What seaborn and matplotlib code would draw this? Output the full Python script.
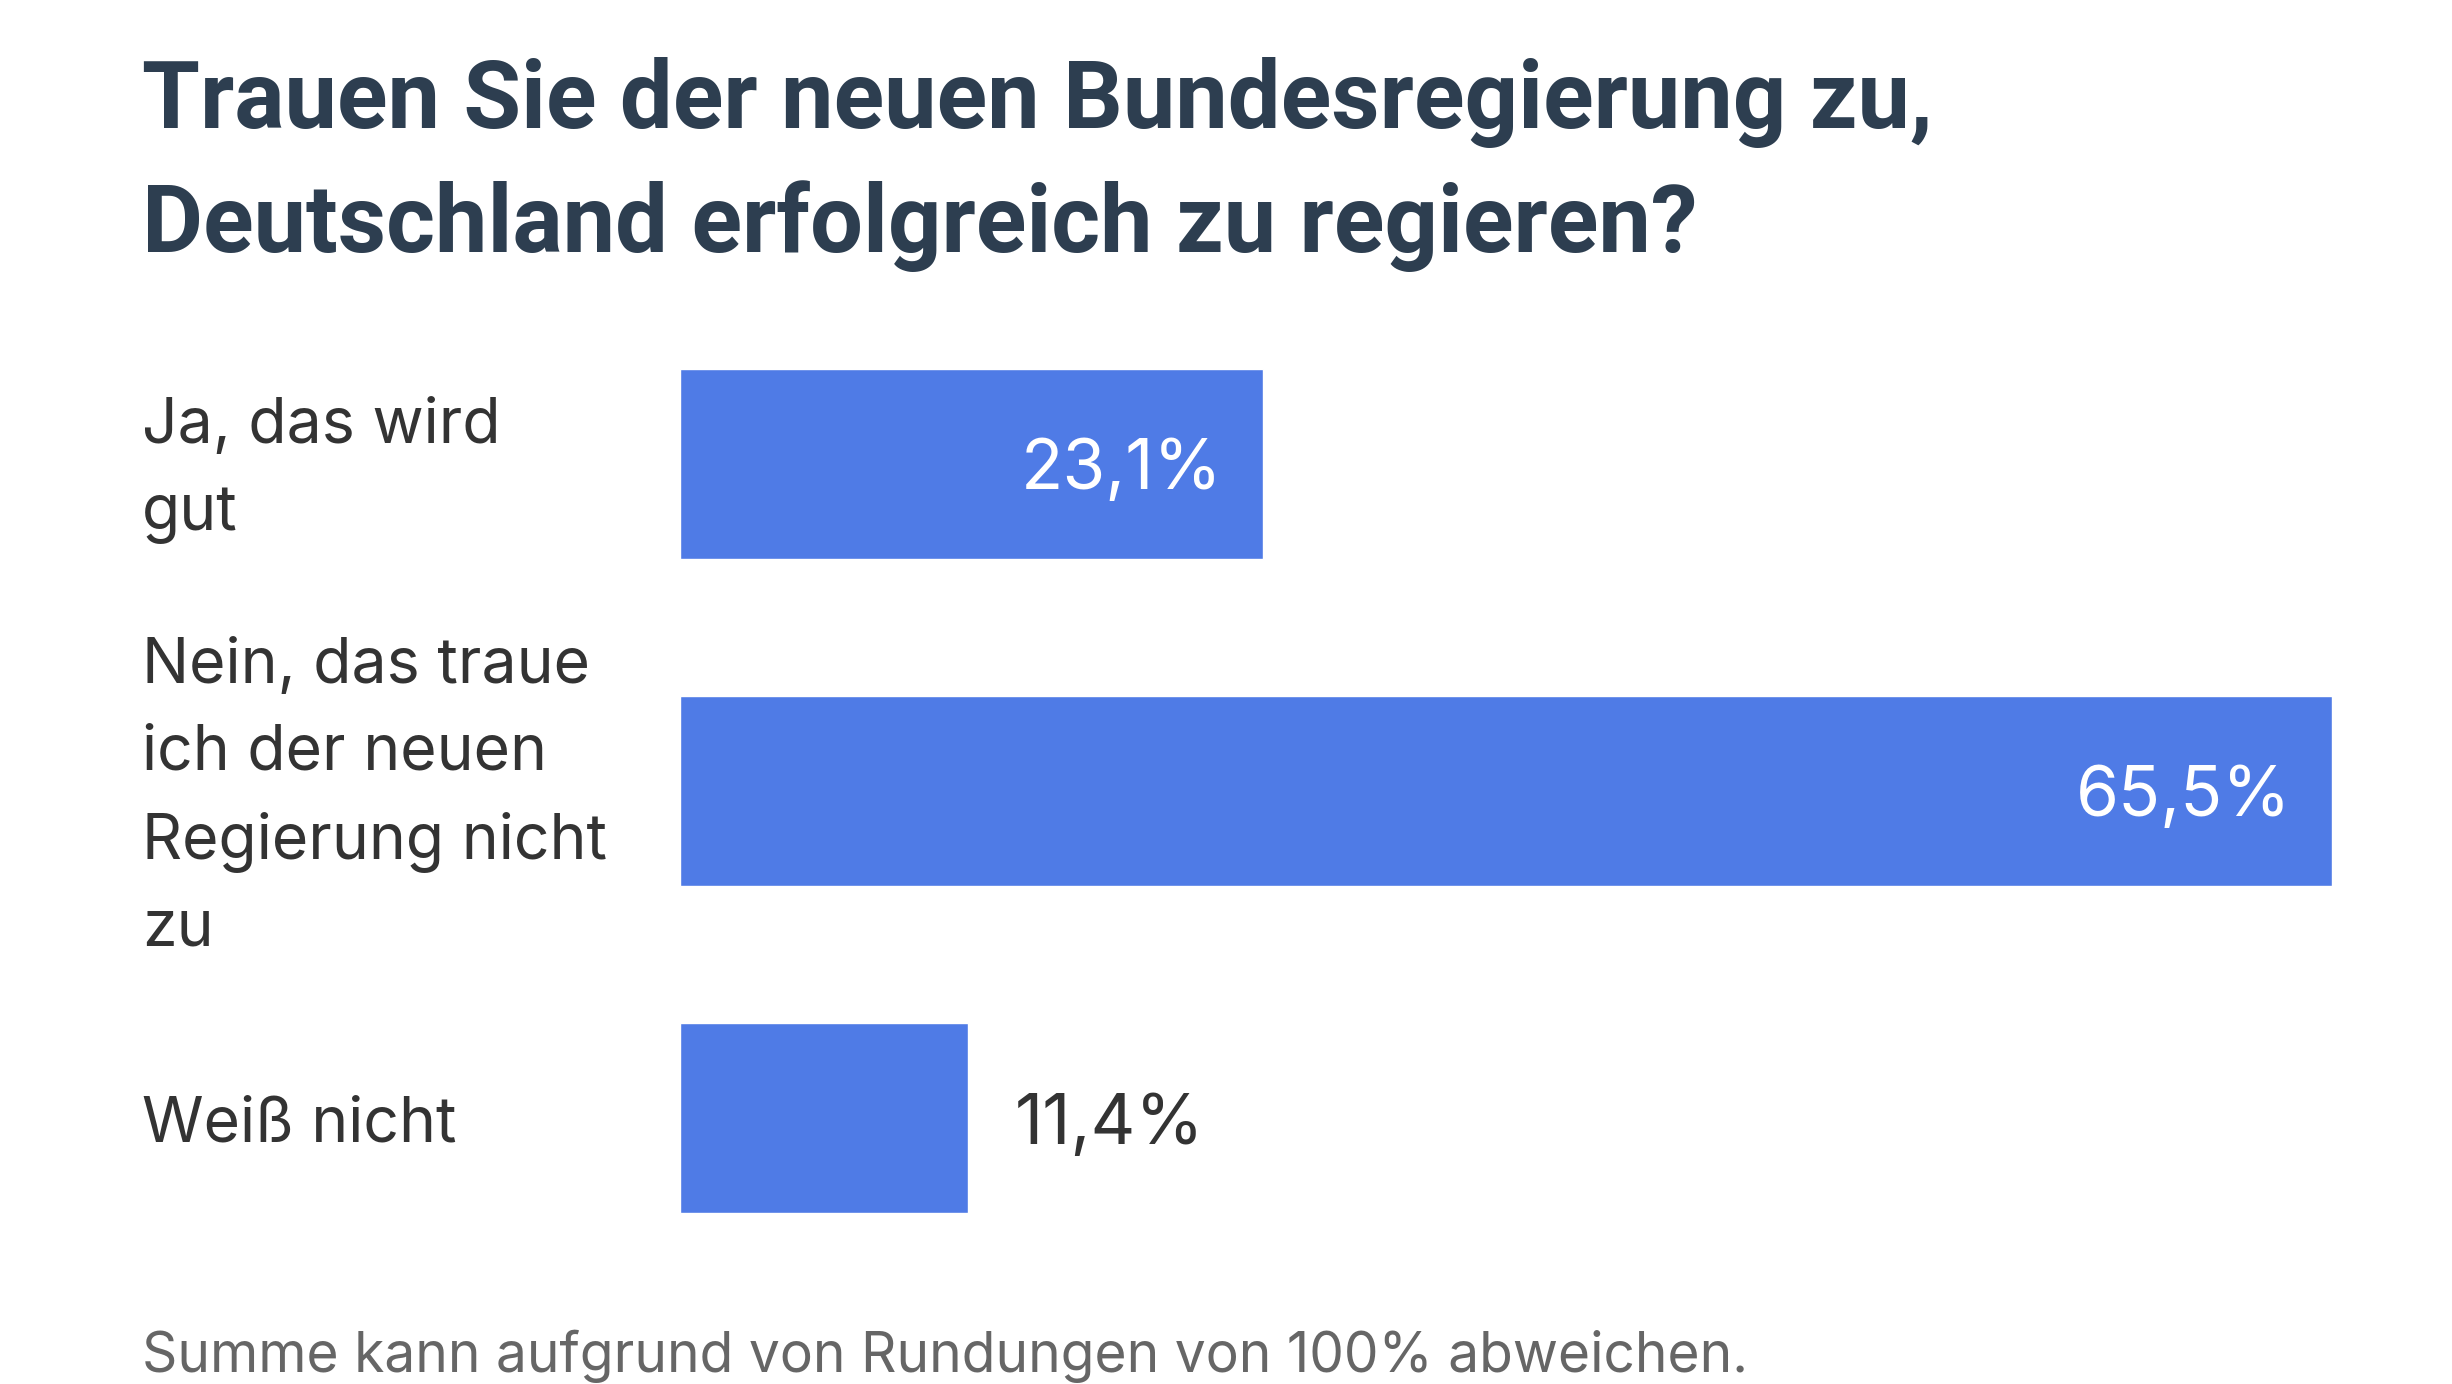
import matplotlib
matplotlib.use("Agg")
import matplotlib.pyplot as plt
import matplotlib.transforms as mtransforms
import seaborn as sns
import pandas as pd

# Data
answers = [
    "Ja, das wird\ngut",
    "Nein, das traue\nich der neuen\nRegierung nicht\nzu",
    "Weiß nicht",
]
shares = [23.1, 65.5, 11.4]
value_labels = ["23,1%", "65,5%", "11,4%"]

title_lines = [
    "Trauen Sie der neuen Bundesregierung zu,",
    "Deutschland erfolgreich zu regieren?",
]
footnote = "Summe kann aufgrund von Rundungen von 100% abweichen."

bar_color = "#4f7be6"
title_color = "#2d3e50"
text_color = "#333333"
note_color = "#666666"

sns.set_theme(style="white")
plt.rcParams["font.family"] = ["Inter", "DejaVu Sans"]

df = pd.DataFrame({"answer": answers, "share": shares})

W, H = 2452, 1384
fig = plt.figure(figsize=(W / 100, H / 100), dpi=100)
fig.patch.set_facecolor("white")

# axes box in pixels: x 680..2332, y 300..1282
ax = fig.add_axes([680 / W, 1 - 1282 / H, 1652 / W, 982 / H])
sns.barplot(data=df, x="share", y="answer", orient="h", color=bar_color,
            saturation=1, width=0.58, ax=ax)

ax.set_xlim(0, max(shares))
ax.set_ylim(2.5, -0.5)
sns.despine(ax=ax, left=True, bottom=True)
ax.set_xticks([])
ax.set_yticks([])
ax.set_xlabel("")
ax.set_ylabel("")

# category labels, left aligned at the page margin
trans = mtransforms.blended_transform_factory(fig.transFigure, ax.transData)
trans = trans + mtransforms.ScaledTranslation(0, -5 / 72, fig.dpi_scale_trans)
for i, lab in enumerate(answers):
    ax.text(142 / W, i, lab, transform=trans, ha="left", va="center",
            fontsize=45, color=text_color, linespacing=1.6)

# value labels: inside the bar if there is room, otherwise outside
for i, (v, lab) in enumerate(zip(shares, value_labels)):
    if v > 15:
        ax.annotate(lab, xy=(v, i), xytext=(-29, -5), textcoords="offset points",
                    ha="right", va="center", fontsize=50, color="white")
    else:
        ax.annotate(lab, xy=(v, i), xytext=(34, -5), textcoords="offset points",
                    ha="left", va="center", fontsize=50, color=text_color)

# title
for k, line in enumerate(title_lines):
    fig.text(142 / W, 1 - (128 + 124 * k) / H, line, ha="left", va="baseline",
             fontsize=67.5, fontweight="bold", color=title_color,
             family=["Roboto", "DejaVu Sans"])

fig.text(142 / W, 1 - 1372 / H, footnote, ha="left", va="baseline",
         fontsize=39.7, color=note_color)

fig.savefig("out.png", dpi=100, facecolor="white")
